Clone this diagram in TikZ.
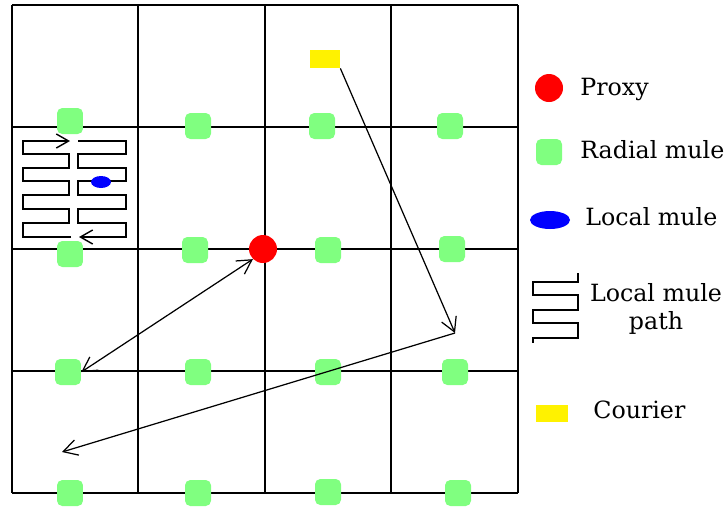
\documentclass[tikz,border=0pt]{standalone}
\usepackage{fontspec}
\setmainfont{DejaVu Serif}
\usetikzlibrary{arrows.meta,shapes.geometric}
\definecolor{mulegreen}{RGB}{128,255,128}
\tikzset{
  gridline/.style={line width=1.2pt},
  radial/.style={fill=mulegreen,rounded corners=3pt,minimum size=0.52cm,inner sep=0pt},
  proxydot/.style={circle,fill=red,minimum size=0.56cm,inner sep=0pt},
  localdot/.style={ellipse,fill=blue,inner sep=0pt},
  courierbox/.style={fill=yellow,inner sep=0pt},
  trip/.style={line width=0.7pt,-{Straight Barb[length=8pt,width=9pt]}},
  meander/.style={line width=0.8pt},
  legendtext/.style={font=\fontsize{13.5}{16}\selectfont,anchor=west,inner sep=0pt}
}
\begin{document}
\begin{tikzpicture}[x=0.02cm,y=-0.02cm]
    \useasboundingbox (0,0) rectangle (726,508);

    % The grid of cells
    \foreach \x in {12,138,265,391,518}
      \draw[gridline] (\x,5) -- (\x,493);
    \foreach \y in {5,127,249,371,493}
      \draw[gridline] (12,\y) -- (518,\y);

    % The radial mules
    \foreach \n/\x/\y in {11/70/121, 12/198/126, 13/322/126, 14/450/126,
                          21/70/254, 22/195/250, 23/328/250, 24/452/249,
                          31/68/372, 32/198/372, 33/328/372, 34/455/372,
                          41/70/493, 42/198/493, 43/328/492, 44/458/493}
      \node[radial] (m\n) at (\x,\y) {};

    % The proxy and the courier
    \node[proxydot] (proxy) at (263,249) {};
    \node[courierbox,minimum width=0.6cm,minimum height=0.36cm] (courier) at (325,59) {};

    % The local mule path in one cell
    \draw[meander,-{Straight Barb[length=7pt,width=8pt]}] (71,237) -- (23,237) -- (23,223) -- (69,223)
      -- (69,209) -- (23,209) -- (23,195) -- (69,195) -- (69,181) -- (23,181)
      -- (23,168) -- (69,168) -- (69,154) -- (23,154) -- (23,141) -- (70,141);
    \draw[meander,-{Straight Barb[length=7pt,width=8pt]}] (78,141) -- (126,141) -- (126,154) -- (78,154)
      -- (78,168) -- (126,168) -- (126,181) -- (78,181) -- (78,195) -- (126,195)
      -- (126,209) -- (78,209) -- (78,223) -- (126,223) -- (126,237) -- (79,237);
    \node[localdot,minimum width=0.4cm,minimum height=0.24cm] (local) at (101,182) {};

    % The trips
    \coordinate (turn) at (455,333);
    \coordinate (stop) at (62,452);
    \draw[trip] (courier.south east) -- (turn);
    \draw[trip] (turn) -- (stop);
    \draw[trip,{Straight Barb[length=8pt,width=9pt]}-{Straight Barb[length=8pt,width=9pt]}] (m31.east) -- (proxy.south west);

    % The legend
    \node[proxydot] (kproxy) at (549,88) {};
    \node[legendtext] (tproxy) at (580,89) {Proxy};
    \node[radial] (kradial) at (549,152) {};
    \node[legendtext] (tradial) at (580,150) {Radial mule};
    \node[localdot,minimum width=0.8cm,minimum height=0.36cm] (klocal) at (550,220) {};
    \node[legendtext] (tlocal) at (585,217) {Local mule};
    \draw[meander] (578,273) -- (578,282) -- (533,282) -- (533,295) -- (578,295)
      -- (578,310) -- (533,310) -- (533,323) -- (578,323) -- (578,338) -- (533,338) -- (533,343);
    \node[legendtext,anchor=center,align=center] (tpath) at (656,309) {Local mule\\path};
    \node[courierbox,minimum width=0.64cm,minimum height=0.34cm] (kcourier) at (552,413) {};
    \node[legendtext] (tcourier) at (593,410) {Courier};
\end{tikzpicture}
\end{document}
